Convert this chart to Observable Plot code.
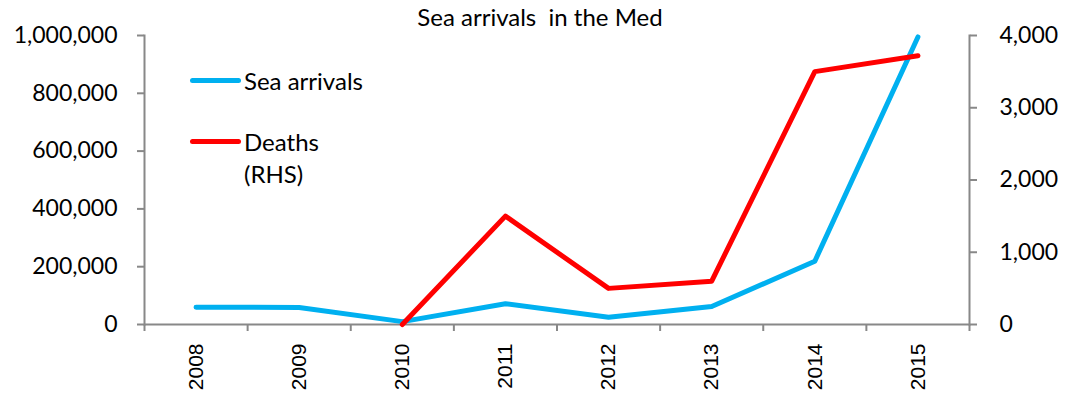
<!DOCTYPE html>
<html>
<head>
<meta charset="utf-8">
<script src="https://cdn.jsdelivr.net/npm/d3@7"></script>
<script src="https://cdn.jsdelivr.net/npm/@observablehq/plot@0.6"></script>
<style>
  html, body { margin: 0; padding: 0; background: #fff; }
  #wrap { position: relative; width: 1066px; height: 395px; font-family: Lato, "Open Sans", sans-serif; color: #000; }
  #wrap svg { position: absolute; left: 0; top: 0; }
  .title { position: absolute; left: 0; width: 1080px; top: 2px; text-align: center; font-size: 24px; }
  .leg { position: absolute; font-size: 24px; line-height: 32px; }
  .sw { position: absolute; width: 51px; height: 5px; border-radius: 3px; }
</style>
</head>
<body>
<div id="wrap">
  <div class="title">Sea arrivals&nbsp; in the Med</div>
</div>
<script>
const years = [2008, 2009, 2010, 2011, 2012, 2013, 2014, 2015];
const seaArrivals = [60000, 59000, 10000, 72000, 25000, 62000, 219000, 995000];
const deathYears = [2010, 2011, 2012, 2013, 2014, 2015];
const deaths = [0, 1500, 500, 600, 3500, 3720];
const leftTicks = [0, 200000, 400000, 600000, 800000, 1000000];
const rightTicks = [0, 1000, 2000, 3000, 4000];
const seriesNames = ["Sea arrivals", "Deaths\n(RHS)"];
const seriesColors = ["#00B0F0", "#FF0000"];

const ratio = 1000000 / 4000;
const arrivalsData = years.map((y, i) => ({year: y, value: seaArrivals[i]}));
const deathsData = deathYears.map((y, i) => ({year: y, value: deaths[i] * ratio}));
const edges = years.map(y => y - 0.5).concat([years[years.length - 1] + 0.5]);
const fmt = d3.format(",");

const chart = Plot.plot({
  width: 1066,
  height: 395,
  marginLeft: 144,
  marginRight: 97,
  marginTop: 35,
  marginBottom: 71,
  x: {domain: [edges[0], edges[edges.length - 1]]},
  y: {domain: [0, 1000000]},
  style: {fontFamily: "Lato, sans-serif", color: "#000", background: "transparent"},
  marks: [
    Plot.axisX({ticks: years, tickSize: 0, tickRotate: -90, tickPadding: 19, tickFormat: d => String(d),
      fontFamily: "Liberation Sans, Arial, sans-serif", fontSize: 21, fill: "#000", label: null}),
    Plot.axisX({ticks: edges, tickSize: 7, tickFormat: () => "", stroke: "#888", strokeWidth: 2, label: null}),
    Plot.axisY({anchor: "left", ticks: leftTicks, tickSize: 7, tickPadding: 20, tickFormat: fmt,
      fontSize: 23, stroke: "#888", strokeWidth: 2, fill: "#000", label: null}),
    Plot.axisY({anchor: "right", ticks: rightTicks.map(d => d * ratio), tickSize: 7, tickPadding: 23,
      tickFormat: d => fmt(Math.round(d / ratio)), fontSize: 23, stroke: "#888", strokeWidth: 2, fill: "#000", label: null}),
    Plot.frame({anchor: "left", stroke: "#888", strokeWidth: 2}),
    Plot.frame({anchor: "right", stroke: "#888", strokeWidth: 2}),
    Plot.ruleY([0], {stroke: "#888", strokeWidth: 2}),
    Plot.line(arrivalsData, {x: "year", y: "value", stroke: seriesColors[0], strokeWidth: 5, strokeLinejoin: "round", strokeLinecap: "round"}),
    Plot.line(deathsData, {x: "year", y: "value", stroke: seriesColors[1], strokeWidth: 5, strokeLinejoin: "round", strokeLinecap: "round"})
  ]
});
const wrap = document.getElementById("wrap");
wrap.appendChild(chart);

// legend
const legPos = [{sy: 78, ty: 65}, {sy: 139, ty: 126}];
seriesNames.forEach((name, i) => {
  const sw = document.createElement("div");
  sw.className = "sw";
  sw.style.left = "190px";
  sw.style.top = legPos[i].sy + "px";
  sw.style.background = seriesColors[i];
  wrap.appendChild(sw);
  const t = document.createElement("div");
  t.className = "leg";
  t.style.left = "244px";
  t.style.top = legPos[i].ty + "px";
  t.innerHTML = name.split("\n").join("<br>");
  wrap.appendChild(t);
});
</script>
</body>
</html>
